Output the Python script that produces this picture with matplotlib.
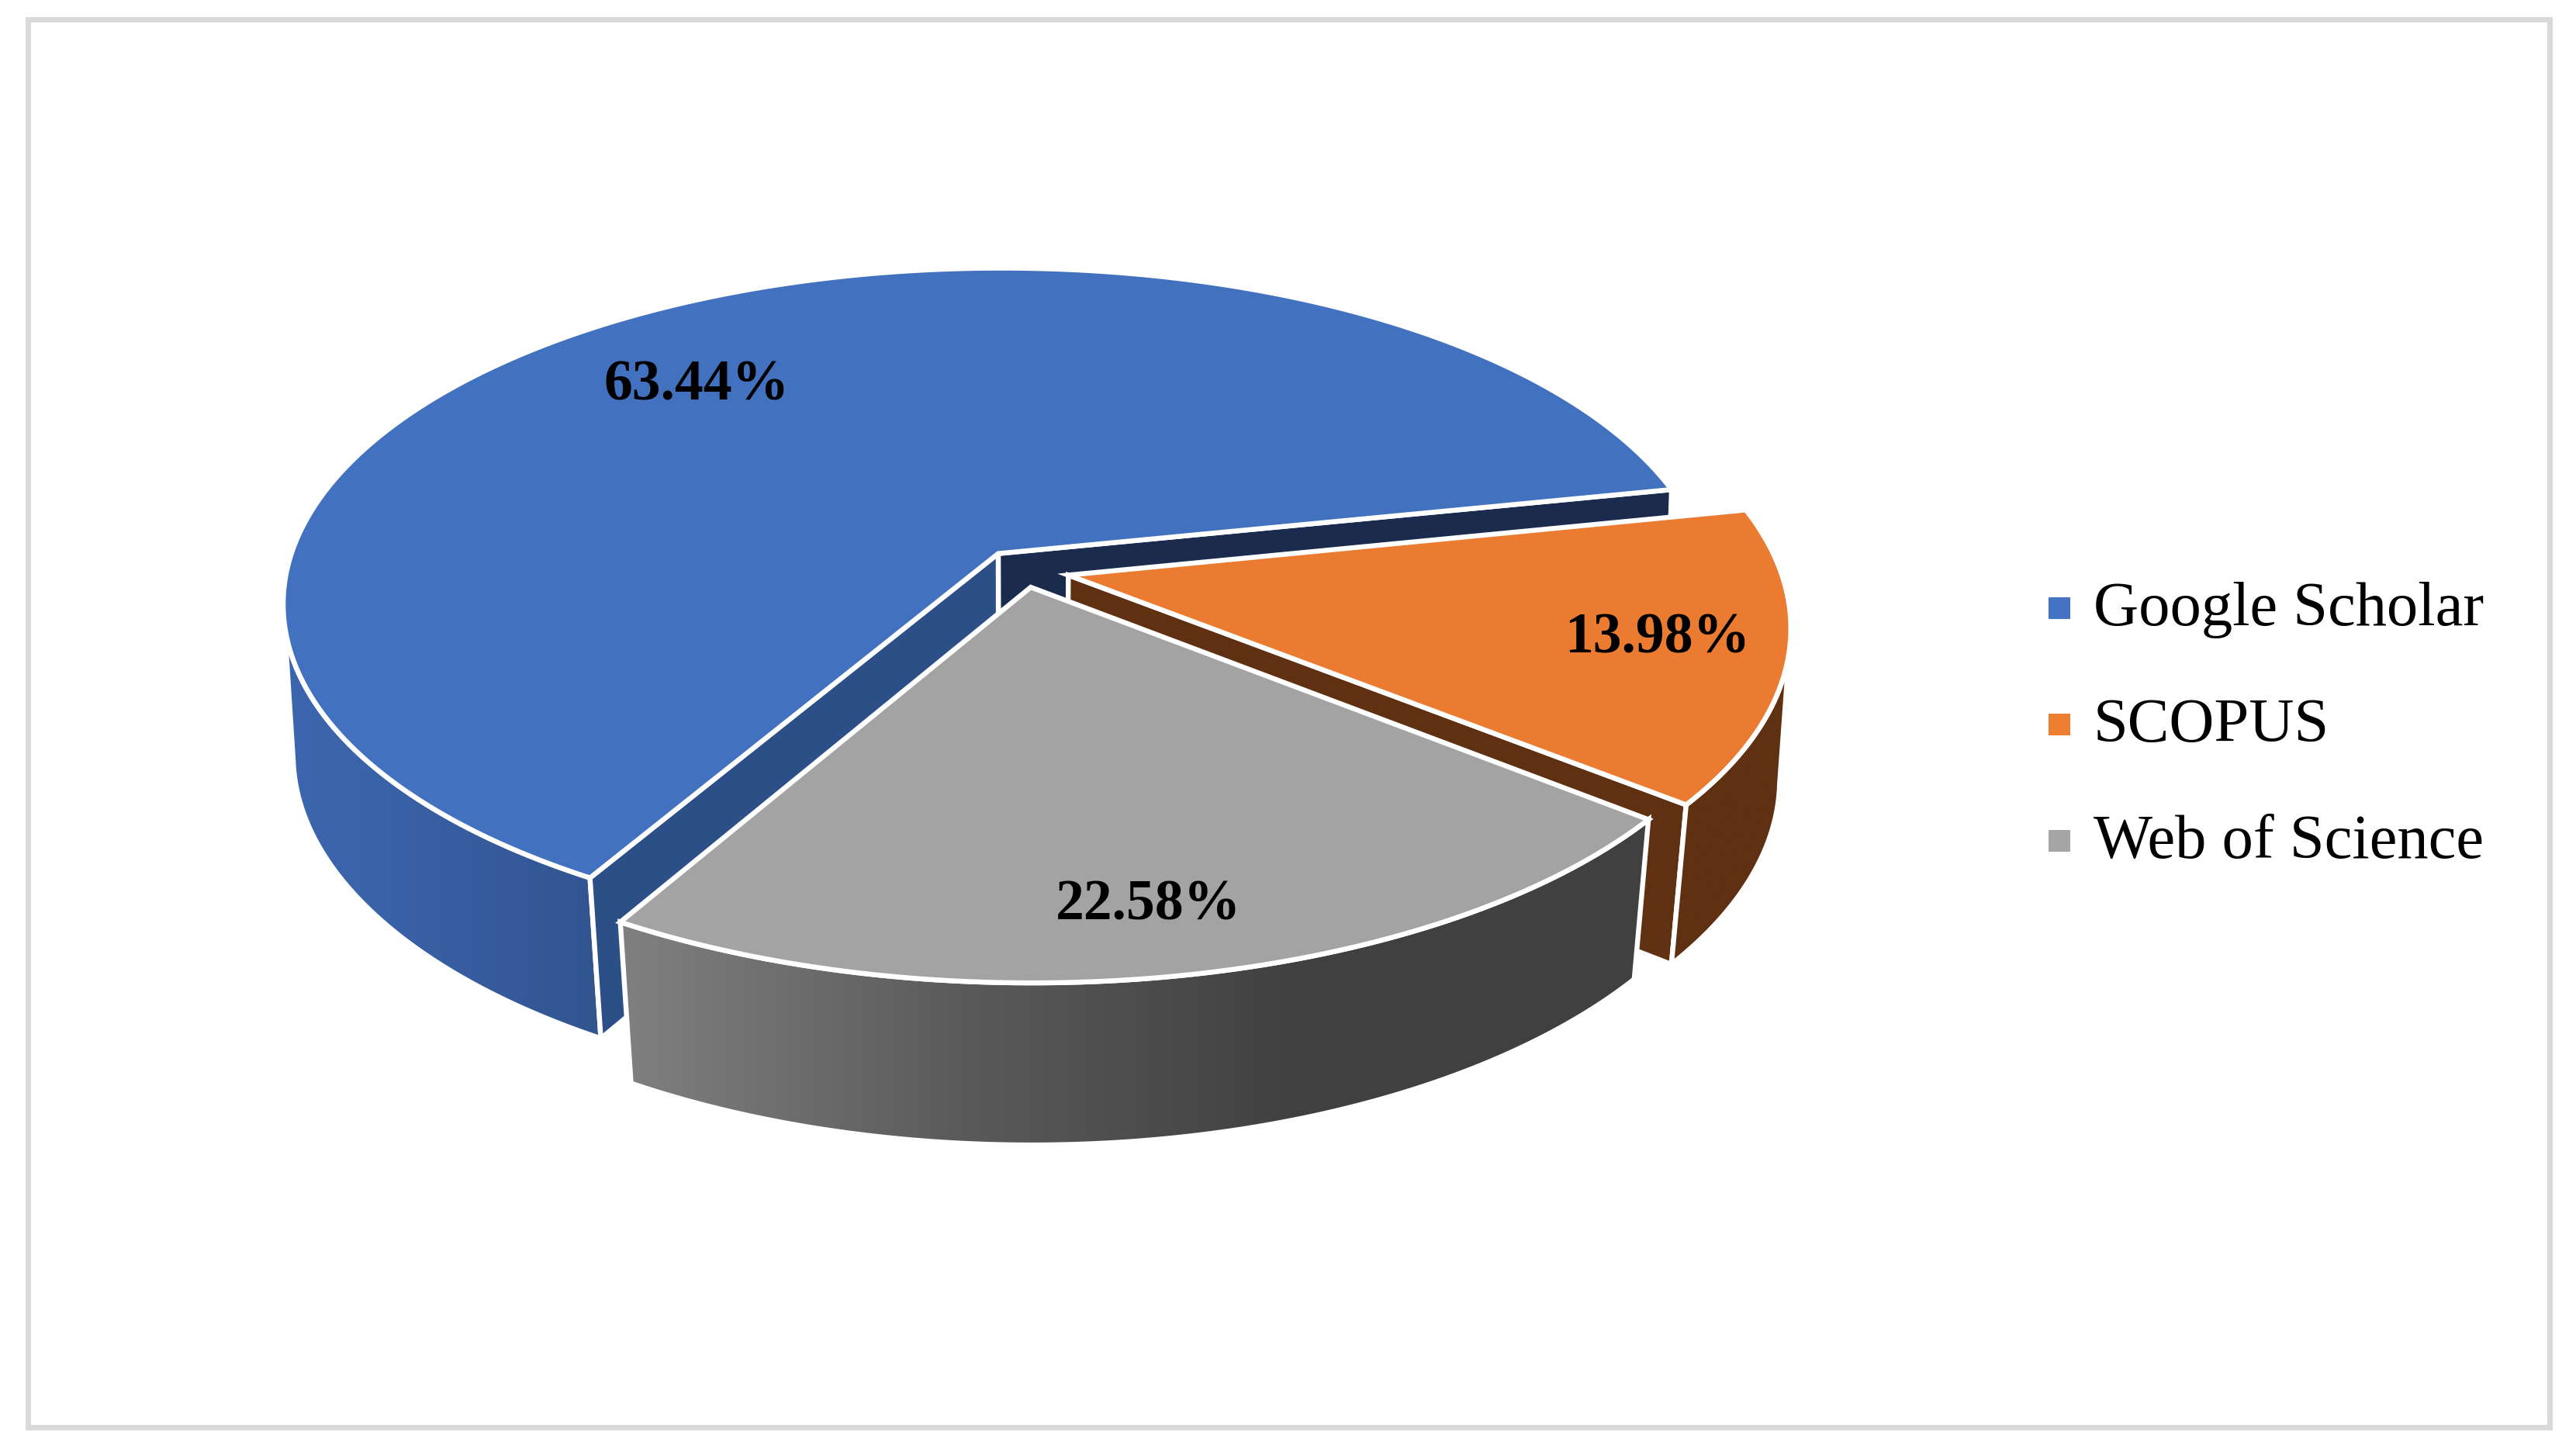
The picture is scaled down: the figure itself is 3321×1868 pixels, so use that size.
import numpy as np
import matplotlib
matplotlib.use("Agg")
import matplotlib.pyplot as plt
from matplotlib.patches import Polygon, Rectangle
from matplotlib.colors import LinearSegmentedColormap

# data
labels = ["Google Scholar", "SCOPUS", "Web of Science"]
values = [63.44, 13.98, 22.58]
value_text = ["63.44%", "13.98%", "22.58%"]

# colours
top_colors = ["#4271c0", "#eb7b30", "#a3a3a3"]
legend_colors = ["#4472c4", "#ed7d31", "#a5a5a5"]
wall_colors = {0: ["#3c66ae", "#3a62a8", "#365a9c", "#32558f"], 1: ["#5f3112", "#5f3112"], 2: ["#808080", "#5a5a5a", "#404040", "#404040"]}
cut_colors = ["#2d4f88", "#5f3112", "#404040"]
back_cut_color = "#1a2b4e"

# projection of the flat pie to the picture, all in pixels
CX, CY = 1320, 735
A0, B0 = 918, 428
K = 0.147        # perspective
EXPLODE = [0.062, 0.064, 0.052]
H = 201          # thickness
SY = 1.015
START = 240.0
WHITE = 4.6

z = [2]


def next_z():
    z[0] += 1
    return z[0]


def project(X, Y, bottom=False):
    X = np.asarray(X, dtype=float)
    Y = np.asarray(Y, dtype=float)
    w = 1 + K * Y
    x = CX + A0 * X / w
    y = CY - B0 * Y / w
    if bottom:
        x = CX + (x - CX) * (0.988 + 0.016 * Y)
        y = CY + H + (y - CY) * SY
    return np.column_stack([x, y])


def arc(a1, a2, off, bottom=False, n=300):
    t = np.radians(np.linspace(a1, a2, n))
    return project(off[0] + np.cos(t), off[1] + np.sin(t), bottom)


def apex(off, bottom=False):
    return project([off[0]], [off[1]], bottom)


def add_poly(ax, pts, color):
    ax.add_patch(Polygon(pts, closed=True, facecolor=color, edgecolor="white", lw=WHITE,
                         joinstyle="miter", zorder=next_z()))


def add_gradient(ax, pts, colors):
    x0, x1 = pts[:, 0].min(), pts[:, 0].max()
    y0, y1 = pts[:, 1].min(), pts[:, 1].max()
    cmap = LinearSegmentedColormap.from_list("wall", colors)
    im = ax.imshow(np.linspace(0, 1, 256).reshape(1, -1), cmap=cmap, aspect="auto",
                   extent=[x0, x1, y1, y0], interpolation="bilinear", zorder=next_z())
    clip = Polygon(pts, closed=True, facecolor="none", edgecolor="white", lw=WHITE, zorder=next_z())
    ax.add_patch(clip)
    im.set_clip_path(clip)


fig = plt.figure(figsize=(33.21, 18.68), dpi=100, facecolor="white")
ax = fig.add_axes([0, 0, 1, 1])
ax.axis("off")

# frame
ax.add_patch(Rectangle((35.5, 24.5), 3251, 1815, facecolor="white", edgecolor="#d9d9d9", lw=5, zorder=1))

# slice angles, clockwise from START
sweep = np.array(values) / np.sum(values) * 360.0
a = START
for i in range(len(values)):
    a1, a2 = a, a - sweep[i]
    a = a2
    mid = np.radians((a1 + a2) / 2)
    off = (EXPLODE[i] * np.cos(mid), EXPLODE[i] * np.sin(mid))

    top_pts = np.vstack([apex(off), arc(a1, a2, off)])
    c_top, c_bot = apex(off), apex(off, True)

    if i == 0:
        # outer wall from the left extreme to the first cut
        tt = arc(a1, a2, off)
        aa = np.linspace(a1, a2, 300)
        lim = aa[np.argmin(tt[:, 0])]
        pts = np.vstack([arc(a1, lim, off), arc(lim, a1, off, True)])
        add_gradient(ax, pts, wall_colors[0])
        # both cut faces
        p = arc(a2, a2, off, n=1)
        pb = arc(a2, a2, off, True, n=1)
        add_poly(ax, np.vstack([c_top, p, pb, c_bot]), back_cut_color)
        p = arc(a1, a1, off, n=1)
        pb = arc(a1, a1, off, True, n=1)
        add_poly(ax, np.vstack([c_top, p, pb, c_bot]), cut_colors[0])
    elif i == 1:
        tt = arc(a1, a2, off)
        aa = np.linspace(a1, a2, 300)
        lim = aa[np.argmax(tt[:, 0])]
        p = arc(a2, a2, off, n=1)
        pb = arc(a2, a2, off, True, n=1)
        add_poly(ax, np.vstack([c_top, p, pb, c_bot]), cut_colors[1])
        pts = np.vstack([arc(lim, a2, off), arc(a2, lim, off, True)])
        add_gradient(ax, pts, wall_colors[1])
    else:
        pts = np.vstack([arc(a1, a2, off), arc(a2, a1, off, True)])
        add_gradient(ax, pts, wall_colors[2])

    add_poly(ax, top_pts, top_colors[i])

# value labels
label_x = [898, 2137, 1480]
label_y = [497, 823, 1167]
for i in range(len(values)):
    ax.text(label_x[i], label_y[i], value_text[i], family="Liberation Serif", weight="bold",
            fontsize=53, ha="center", va="center", color="black", zorder=100)

# legend
for i in range(len(labels)):
    ax.add_patch(Rectangle((2641, 770 + 150 * i), 28, 28, facecolor=legend_colors[i], edgecolor="none", zorder=2))
    ax.text(2699, 806 + 150 * i, labels[i], family="Liberation Serif", fontsize=58,
            ha="left", va="baseline", color="black", zorder=100)

# imshow resets the limits, so they are set last
ax.set_xlim(0, 3321)
ax.set_ylim(1868, 0)
fig.savefig("out.png", dpi=100)
